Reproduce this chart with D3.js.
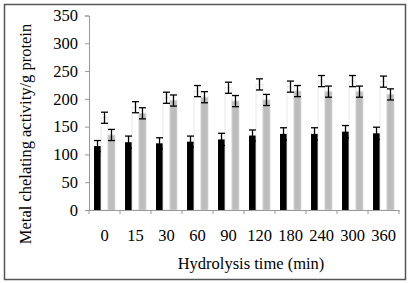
<!DOCTYPE html>
<html>
<head>
<meta charset="utf-8">
<script src="https://d3js.org/d3.v7.min.js"></script>
<style>
  body { margin: 0; background: #fff; }
  text { font-family: "Liberation Serif", "Times New Roman", serif; fill: #000; }
</style>
</head>
<body>
<script>
// hydrolysis times (x categories)
const categories = ["0", "15", "30", "60", "90", "120", "180", "240", "300", "360"];
// three series
const blackVals = [115, 122, 120, 123, 127, 134, 137, 137, 141, 138];
const whiteVals = [166, 185, 202, 214, 220, 226, 222, 232, 232, 231];
const grayVals  = [135, 174, 197, 203, 196, 198, 214, 213, 213, 208];
const blackErr  = [10, 11, 10, 10, 11, 10, 11, 11, 11, 11];
const whiteErr  = [10, 10, 10, 10, 10, 10, 10, 10, 10, 10];
const grayErr   = [10, 10, 10, 10, 10, 10, 10, 10, 10, 10];
const yTicks = [0, 50, 100, 150, 200, 250, 300, 350];

const width = 408, height = 283;
const margin = {left: 89, right: 9, top: 15.5, bottom: 73};

const svg = d3.select("body").append("svg")
  .attr("width", width).attr("height", height);

// outer frame
svg.append("rect")
  .attr("x", 4.5).attr("y", 4.5)
  .attr("width", 401).attr("height", 275)
  .attr("fill", "none").attr("stroke", "#555").attr("stroke-width", 1.5);

const x = d3.scaleBand().domain(categories)
  .range([margin.left, width - margin.right]);
const y = d3.scaleLinear().domain([0, 350])
  .range([height - margin.bottom, margin.top]);

const sub = d3.scaleBand().domain(["b", "w", "g"])
  .range([0, x.bandwidth()]).paddingOuter(0.72).paddingInner(0);

const series = [
  {key: "b", vals: blackVals, err: blackErr, fill: "#000", stroke: "none"},
  {key: "w", vals: whiteVals, err: whiteErr, fill: "#fff", stroke: "#e2e2e2"},
  {key: "g", vals: grayVals, err: grayErr, fill: "#bdbdbd", stroke: "#d6d6d6"}
];

series.forEach(s => {
  const g = svg.append("g");
  g.selectAll("rect").data(categories).enter().append("rect")
    .attr("x", d => x(d) + sub(s.key))
    .attr("y", (d, i) => y(s.vals[i]))
    .attr("width", sub.bandwidth())
    .attr("height", (d, i) => y(0) - y(s.vals[i]))
    .attr("fill", s.fill)
    .attr("stroke", s.stroke)
    .attr("stroke-width", 0.8);
});

// error bars
series.forEach(s => {
  const g = svg.append("g").attr("stroke", "#000").attr("stroke-width", 1.3);
  categories.forEach((c, i) => {
    const cx = x(c) + sub(s.key) + sub.bandwidth() / 2;
    const hi = y(s.vals[i] + s.err[i]), lo = y(s.vals[i] - s.err[i]);
    g.append("line").attr("x1", cx).attr("x2", cx).attr("y1", hi).attr("y2", lo);
    g.append("line").attr("x1", cx - 3.5).attr("x2", cx + 3.5).attr("y1", hi).attr("y2", hi);
    g.append("line").attr("x1", cx - 3.5).attr("x2", cx + 3.5).attr("y1", lo).attr("y2", lo);
  });
});

// y axis
const yAxis = svg.append("g")
  .attr("transform", `translate(${margin.left},0)`)
  .call(d3.axisLeft(y).tickValues(yTicks).tickSize(4).tickPadding(7));
yAxis.select(".domain").attr("stroke", "#999");
yAxis.selectAll(".tick line").attr("stroke", "#999");
yAxis.selectAll("text").attr("font-size", "16.5px")
  .style("font-family", "'Liberation Serif', serif").attr("fill", "#000");

// x axis, ticks at category boundaries
const xAxis = svg.append("g")
  .attr("transform", `translate(0,${y(0)})`)
  .call(d3.axisBottom(x).tickSize(0).tickPadding(19));
xAxis.select(".domain").attr("stroke", "#999");
xAxis.selectAll("text").attr("font-size", "16.5px")
  .style("font-family", "'Liberation Serif', serif").attr("fill", "#000");
const bounds = categories.map(c => x(c)).concat([x.range()[1]]);
xAxis.selectAll(".bound").data(bounds).enter().append("line")
  .attr("x1", d => d).attr("x2", d => d)
  .attr("y1", 0).attr("y2", 4)
  .attr("stroke", "#999");

// titles
svg.append("text")
  .attr("x", 251).attr("y", 269)
  .attr("text-anchor", "middle")
  .attr("font-size", "16.5px")
  .text("Hydrolysis time (min)");

svg.append("text")
  .attr("transform", "translate(31,134) rotate(-90)")
  .attr("text-anchor", "middle")
  .attr("font-size", "16.5px")
  .text("Metal chelating activity/g protein");
</script>
</body>
</html>
